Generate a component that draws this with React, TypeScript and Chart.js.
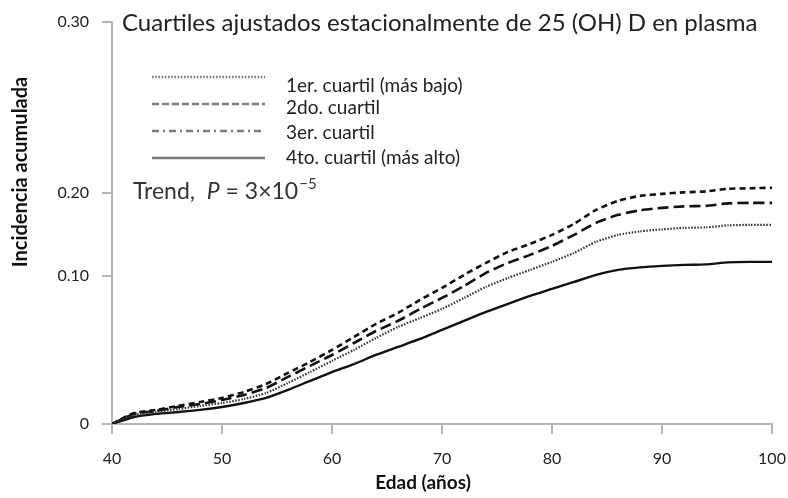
import React, { useEffect, useRef } from "react";
import { Chart, registerables, LinearScale } from "chart.js";

Chart.register(...registerables);

// ---------- data ----------
const ages = [40, 42, 44, 46, 48, 50, 52, 54, 56, 58, 60, 62, 64, 66, 68, 70, 72, 74, 76, 78, 80, 82, 84, 86, 88, 90, 92, 94, 96, 98, 100];

// 1er. cuartil (más bajo) – dotted
const q1 = [0, 0.0061, 0.0081, 0.0101, 0.0122, 0.0142, 0.0169, 0.0209, 0.0277, 0.0351, 0.0426, 0.05, 0.0581, 0.0655, 0.0716, 0.0777, 0.0851, 0.0926, 0.0986, 0.1072, 0.1168, 0.1276, 0.1408, 0.1492, 0.1534, 0.1558, 0.1576, 0.1582, 0.1606, 0.1612, 0.1612];
// 2do. cuartil – short dashes
const q2 = [0, 0.0074, 0.0095, 0.0122, 0.0149, 0.0176, 0.0216, 0.027, 0.0345, 0.0419, 0.05, 0.0588, 0.0676, 0.075, 0.0838, 0.0919, 0.1012, 0.1156, 0.1288, 0.1384, 0.1492, 0.1624, 0.1792, 0.19, 0.196, 0.1984, 0.2001, 0.2007, 0.2022, 0.2025, 0.2028];
// 3er. cuartil – long dashes
const q3 = [0, 0.0068, 0.0088, 0.0115, 0.0135, 0.0162, 0.0196, 0.0243, 0.0318, 0.0392, 0.0466, 0.0547, 0.0628, 0.0696, 0.0777, 0.0851, 0.0932, 0.1036, 0.1156, 0.1252, 0.136, 0.1492, 0.1636, 0.1732, 0.1786, 0.1816, 0.1834, 0.184, 0.187, 0.1876, 0.1876];
// 4to. cuartil (más alto) – solid
const q4 = [0, 0.0047, 0.0068, 0.0081, 0.0095, 0.0115, 0.0142, 0.0176, 0.023, 0.0291, 0.0351, 0.0405, 0.0466, 0.052, 0.0574, 0.0635, 0.0696, 0.0757, 0.0811, 0.0865, 0.0912, 0.0959, 0.1012, 0.1072, 0.1102, 0.112, 0.1132, 0.1138, 0.1162, 0.1168, 0.1168];

const seriesNames = ["1er. cuartil (más bajo)", "2do. cuartil", "3er. cuartil", "4to. cuartil (más alto)"];
const yTicks = [0, 0.1, 0.2, 0.3];
const yTickLabels = ["0", "0.10", "0.20", "0.30"];
const xTicks = [40, 50, 60, 70, 80, 90, 100];
const chartTitle = "Cuartiles ajustados estacionalmente de 25 (OH) D en plasma";
const xTitle = "Edad (años)";
const yTitle = "Incidencia acumulada";
const trendLabel = "Trend,";
const trendP = "P";
const trendEq = " = 3\u00d710";
const trendExp = "\u22125";

// ---------- piecewise (broken) y scale, as in the original figure ----------
const Y_FRACTIONS = [0, 0.3684, 0.5758, 1];

class PiecewiseScale extends LinearScale {
  static id = "piecewise";
  static defaults = {};
  getPixelForValue(value: any) {
    if (value === null || value === undefined || isNaN(value)) return NaN;
    const v = +value;
    let i = 0;
    while (i < yTicks.length - 2 && v > yTicks[i + 1]) i++;
    const t = (v - yTicks[i]) / (yTicks[i + 1] - yTicks[i]);
    const f = Y_FRACTIONS[i] + t * (Y_FRACTIONS[i + 1] - Y_FRACTIONS[i]);
    return this.getPixelForDecimal(f);
  }
  getValueForPixel(pixel: number) {
    const f = this.getDecimalForPixel(pixel);
    let i = 0;
    while (i < Y_FRACTIONS.length - 2 && f > Y_FRACTIONS[i + 1]) i++;
    const t = (f - Y_FRACTIONS[i]) / (Y_FRACTIONS[i + 1] - Y_FRACTIONS[i]);
    return yTicks[i] + t * (yTicks[i + 1] - yTicks[i]);
  }
}
Chart.register(PiecewiseScale as any);

const FONT = "Lato, 'Open Sans', sans-serif";
const AXIS_GRAY = "#b4b4b4";
const LEGEND_GRAY = "#7c7c7c";

const overlayPlugin = {
  id: "overlay",
  afterDraw(chart: any) {
    const ctx = chart.ctx as CanvasRenderingContext2D;
    const { left, top } = chart.chartArea;
    ctx.save();

    // title
    ctx.fillStyle = "#222";
    ctx.textAlign = "left";
    ctx.textBaseline = "middle";
    ctx.font = `24px ${FONT}`;
    ctx.fillText(chartTitle, left + 10, top + 1);

    // legend
    const patterns = [[1.6, 1.6], [7, 3], [7, 4, 2, 4], []];
    const lineY = [55, 82, 109, 136];
    const textY = [64, 86, 111, 136];
    ctx.strokeStyle = LEGEND_GRAY;
    ctx.lineWidth = 2.5;
    for (let i = 0; i < seriesNames.length; i++) {
      ctx.setLineDash(patterns[i]);
      ctx.beginPath();
      ctx.moveTo(left + 40, top + lineY[i]);
      ctx.lineTo(left + 153, top + lineY[i]);
      ctx.stroke();
    }
    ctx.setLineDash([]);
    ctx.fillStyle = "#222";
    ctx.font = `19px ${FONT}`;
    for (let i = 0; i < seriesNames.length; i++) {
      ctx.fillText(seriesNames[i], left + 174, top + textY[i]);
    }

    // trend text
    let x = left + 21;
    const ty = top + 170;
    ctx.fillStyle = "#333";
    ctx.font = `23px ${FONT}`;
    ctx.fillText(trendLabel, x, ty);
    x += ctx.measureText(trendLabel + "  ").width;
    ctx.font = `italic 23px ${FONT}`;
    ctx.fillText(trendP, x, ty);
    x += ctx.measureText(trendP).width;
    ctx.font = `23px ${FONT}`;
    ctx.fillText(trendEq, x, ty);
    x += ctx.measureText(trendEq).width;
    ctx.font = `15px ${FONT}`;
    ctx.fillText(trendExp, x + 1, ty - 8);

    // axis titles
    ctx.fillStyle = "#111";
    ctx.font = `bold 19px ${FONT}`;
    ctx.textAlign = "center";
    ctx.fillText(xTitle, left + 311, top + 461);
    ctx.font = `bold 20px ${FONT}`;
    ctx.translate(21, top + 150);
    ctx.rotate(-Math.PI / 2);
    ctx.fillText(yTitle, 0, 0);
    ctx.restore();
  },
};

export default function App() {
  const ref = useRef<HTMLCanvasElement | null>(null);
  useEffect(() => {
    if (!ref.current) return;
    const mk = (vals: number[]) => ages.map((a, i) => ({ x: a, y: vals[i] }));
    const chart = new Chart(ref.current, {
      type: "line",
      data: {
        datasets: [
          { label: seriesNames[0], data: mk(q1), borderColor: "#333", borderWidth: 2.2, borderDash: [1.5, 1.5], pointRadius: 0, tension: 0.2 },
          { label: seriesNames[1], data: mk(q2), borderColor: "#111", borderWidth: 2.6, borderDash: [6, 4], pointRadius: 0, tension: 0.2 },
          { label: seriesNames[2], data: mk(q3), borderColor: "#111", borderWidth: 2.6, borderDash: [11, 5], pointRadius: 0, tension: 0.2 },
          { label: seriesNames[3], data: mk(q4), borderColor: "#111", borderWidth: 2.4, pointRadius: 0, tension: 0.2 },
        ],
      },
      options: {
        animation: false,
        responsive: true,
        maintainAspectRatio: false,
        layout: { padding: { top: 22, right: 16, left: 0, bottom: 0 } },
        plugins: { legend: { display: false }, tooltip: { enabled: false }, title: { display: false } },
        scales: {
          x: {
            type: "linear",
            min: 40,
            max: 100,
            afterBuildTicks: (s: any) => { s.ticks = xTicks.map((v) => ({ value: v })); },
            afterFit: (s: any) => { s.height = 74; s.paddingLeft = 0; s.paddingRight = 0; },
            ticks: { font: { family: FONT, size: 16 }, color: "#222", padding: 15, maxRotation: 0 },
            grid: { drawOnChartArea: false, drawTicks: true, tickLength: 10, color: AXIS_GRAY, lineWidth: 2 },
            border: { display: true, color: AXIS_GRAY, width: 2 },
          },
          y: {
            type: "piecewise" as any,
            min: 0,
            max: 0.3,
            afterBuildTicks: (s: any) => { s.ticks = yTicks.map((v) => ({ value: v })); },
            afterFit: (s: any) => { s.width = 112; s.paddingTop = 0; s.paddingBottom = 0; },
            ticks: {
              font: { family: FONT, size: 16 },
              color: "#222",
              padding: 13,
              callback: (v: any) => yTickLabels[yTicks.indexOf(+v)] ?? "",
            },
            grid: { drawOnChartArea: false, drawTicks: true, tickLength: 10, color: AXIS_GRAY, lineWidth: 2 },
            border: { display: true, color: AXIS_GRAY, width: 2 },
          },
        },
      } as any,
      plugins: [overlayPlugin],
    });
    return () => chart.destroy();
  }, []);
  return (
    <div style={{ position: "absolute", left: 0, top: 0, width: 788, height: 498, background: "#fff" }}>
      <canvas ref={ref} />
    </div>
  );
}
